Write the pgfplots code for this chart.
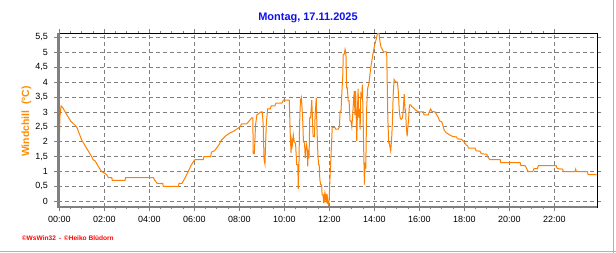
\documentclass[border=0pt]{standalone}
\usepackage{pgfplots}
\pgfplotsset{compat=1.18}
\usepackage{fontspec}
\setmainfont{Liberation Sans}
\definecolor{wline}{RGB}{255,128,0}
\definecolor{wlabel}{RGB}{255,140,0}
\definecolor{wgrid}{RGB}{128,128,128}
\definecolor{wtitle}{RGB}{16,16,240}
\begin{document}
\begin{tikzpicture}
\useasboundingbox (0,0) rectangle (616bp,253bp);
\begin{axis}[
  at={(58.3bp,46bp)}, anchor=south west,
  scale only axis, width=539bp, height=173.7bp,
  xmin=-0.044, xmax=23.91, ymin=-0.19, ymax=5.64,
  xtick={0,2,...,22},
  xticklabels={00:00,02:00,04:00,06:00,08:00,10:00,12:00,14:00,16:00,18:00,20:00,22:00},
  minor x tick num=3,
  ytick={0,0.5,1,1.5,2,2.5,3,3.5,4,4.5,5,5.5},
  yticklabels={0,{0,5},1,{1,5},2,{2,5},3,{3,5},4,{4,5},5,{5,5}},
  /pgf/number format/assume math mode=true,
  tick label style={font=\fontsize{9}{10}\selectfont, text=black},
  xticklabel style={yshift=-2bp},
  yticklabel style={xshift=-3bp},
  tick align=outside,
  major tick length=4bp, minor tick length=2bp,
  every tick/.style={wgrid, line width=0.8bp},
  xmajorgrids, ymajorgrids,
  major grid style={wgrid, line width=0.9bp, dash pattern=on 4bp off 3bp},
  axis line style={black, line width=0.8bp},
  clip=true,
]
\addplot[wline, line width=1bp] coordinates {
(0.00,2.1)(0.03,2.85)(0.08,3.2)(0.15,3.15)(0.3,2.95)(0.5,2.7)(0.77,2.5)(0.8,2.45)
(1.0,2.05)(1.2,1.8)(1.44,1.5)(1.5,1.4)(1.6,1.35)(1.75,1.15)(1.88,1.0)(2.0,0.95)
(2.1,0.9)(2.18,0.8)(2.33,0.8)(2.36,0.7)(2.92,0.7)(2.95,0.8)(4.18,0.8)(4.25,0.7)
(4.35,0.6)(4.6,0.6)(4.62,0.5)(5.29,0.5)(5.32,0.6)(5.45,0.6)(5.6,0.8)(5.73,1.0)
(5.85,1.2)(5.93,1.3)(6.03,1.4)(6.4,1.4)(6.43,1.5)(6.73,1.5)(6.76,1.65)(6.9,1.7)
(7.0,1.8)(7.1,1.9)(7.2,2.05)(7.4,2.2)(7.59,2.3)(7.74,2.35)(7.88,2.42)(8.03,2.5)
(8.1,2.6)(8.33,2.6)(8.44,2.7)(8.55,2.8)(8.6,2.8)(8.62,1.6)(8.67,1.6)(8.72,2.55)
(8.78,2.9)(8.96,3.0)(9.02,3.0)(9.06,2.6)(9.1,1.4)(9.14,1.25)(9.2,2.6)(9.26,3.1)
(9.37,3.1)(9.42,3.2)(9.58,3.2)(9.63,3.3)(9.9,3.3)(9.96,3.4)(10.22,3.4)(10.25,2.63)
(10.27,2.13)(10.3,1.62)(10.33,2.05)(10.36,1.9)(10.4,2.23)(10.44,2.0)(10.5,1.95)(10.55,1.23)
(10.6,1.23)(10.62,0.42)(10.65,1.2)(10.68,2.6)(10.7,3.07)(10.72,3.4)(10.76,3.49)(10.79,3.1)
(10.82,2.7)(10.85,2.0)(10.9,1.95)(10.93,1.45)(10.96,1.75)(10.99,1.9)(11.02,1.73)(11.04,1.17)
(11.07,1.73)(11.1,1.45)(11.13,2.8)(11.17,2.8)(11.22,3.4)(11.25,2.8)(11.28,2.17)(11.34,2.17)
(11.37,2.9)(11.42,3.47)(11.45,2.5)(11.48,1.79)(11.52,1.23)(11.55,1.23)(11.58,0.72)(11.62,0.55)
(11.66,0.55)(11.68,0.22)(11.72,0.22)(11.75,-0.06)(11.78,0.22)(11.81,0.05)(11.84,0.22)(11.87,0.05)
(11.9,0.25)(11.93,-0.06)(11.97,-0.15)(12.0,0.15)(12.02,0.6)(12.05,1.11)(12.08,1.6)(12.1,1.95)
(12.13,2.48)(12.25,2.48)(12.28,2.42)(12.4,2.42)(12.45,2.5)(12.48,3.03)(12.52,3.03)(12.55,3.53)
(12.6,4.25)(12.62,4.93)(12.66,4.93)(12.7,5.1)(12.74,4.93)(12.77,3.81)(12.8,3.81)(12.84,3.37)
(12.88,3.37)(12.92,2.7)(12.96,2.7)(13.0,2.5)(13.04,2.9)(13.07,3.3)(13.11,3.7)(13.14,2.9)
(13.17,3.7)(13.22,2.02)(13.25,3.0)(13.28,3.78)(13.31,2.8)(13.34,3.1)(13.37,2.41)(13.4,3.6)
(13.44,3.5)(13.47,3.92)(13.5,2.85)(13.53,1.69)(13.56,0.56)(13.59,1.3)(13.62,1.1)(13.66,3.1)
(13.7,3.78)(13.76,3.95)(13.84,4.48)(13.9,4.76)(13.96,5.04)(14.04,5.32)(14.1,5.49)(14.14,5.63)
(14.21,5.63)(14.25,5.37)(14.3,5.16)(14.36,5.1)(14.4,5.02)(14.55,5.02)(14.57,4.15)(14.6,2.8)
(14.64,1.96)(14.67,1.96)(14.7,1.8)(14.73,1.69)(14.77,2.1)(14.8,2.6)(14.84,3.58)(14.88,4.09)
(14.93,4.03)(14.98,4.0)(15.03,4.0)(15.07,3.65)(15.11,3.03)(15.15,2.8)(15.19,2.75)(15.25,2.8)
(15.28,3.0)(15.33,3.6)(15.37,3.0)(15.39,3.1)(15.42,2.5)(15.46,2.18)(15.49,2.5)(15.52,2.7)
(15.56,3.24)(15.62,3.24)(15.66,3.18)(15.74,3.14)(15.81,3.08)(15.88,3.04)(15.96,3.0)(16.18,3.0)
(16.21,2.9)(16.4,2.9)(16.44,3.0)(16.5,3.1)(16.56,3.02)(16.7,3.0)(16.78,2.9)(16.85,2.8)
(16.9,2.7)(17.0,2.67)(17.05,2.55)(17.1,2.4)(17.19,2.3)(17.29,2.26)(17.37,2.22)(17.48,2.18)
(17.66,2.16)(17.69,2.1)(17.88,2.08)(18.0,1.98)(18.07,1.9)(18.15,1.86)(18.18,1.79)(18.48,1.79)
(18.52,1.7)(18.7,1.68)(18.75,1.6)(19.0,1.58)(19.03,1.5)(19.14,1.4)(19.59,1.4)(19.62,1.3)
(20.48,1.3)(20.51,1.2)(20.7,1.2)(20.84,1.0)(21.04,1.0)(21.1,1.1)(21.25,1.1)(21.29,1.2)
(22.08,1.2)(22.13,1.1)(22.37,1.08)(22.4,1.0)(22.92,1.0)(22.95,1.08)(22.98,1.0)(23.47,1.0)
(23.5,0.9)(23.88,0.9)
};
\end{axis}
% heavy grey left and bottom axis lines
\draw[wgrid, line width=2.5bp] (58.3bp,46bp) -- (58.3bp,219.7bp);
\draw[wgrid, line width=2.5bp] (57bp,46bp) -- (597.3bp,46bp);
% title
\node[font=\fontsize{11}{13}\selectfont\bfseries, text=wtitle] at (308bp,235bp) {Montag, 17.11.2025};
% y label
\node[font=\fontsize{10.5}{12}\selectfont\bfseries, text=wlabel, rotate=90] at (26.5bp,131.5bp) {Windchill\ \ (°C)};
% footer
\node[font=\fontsize{6.6}{7}\selectfont\bfseries, text=red, anchor=west, inner sep=0pt] at (21.7bp,14.5bp) {\textcopyright WsWin32 \,-\, \textcopyright Heiko Blüdorn};
% window frame
\draw[black!30, line width=1.5bp] (613.5bp,0bp) -- (613.5bp,253bp);
\draw[black!30, line width=1.2bp] (0bp,1.2bp) -- (616bp,1.2bp);
\end{tikzpicture}
\end{document}
